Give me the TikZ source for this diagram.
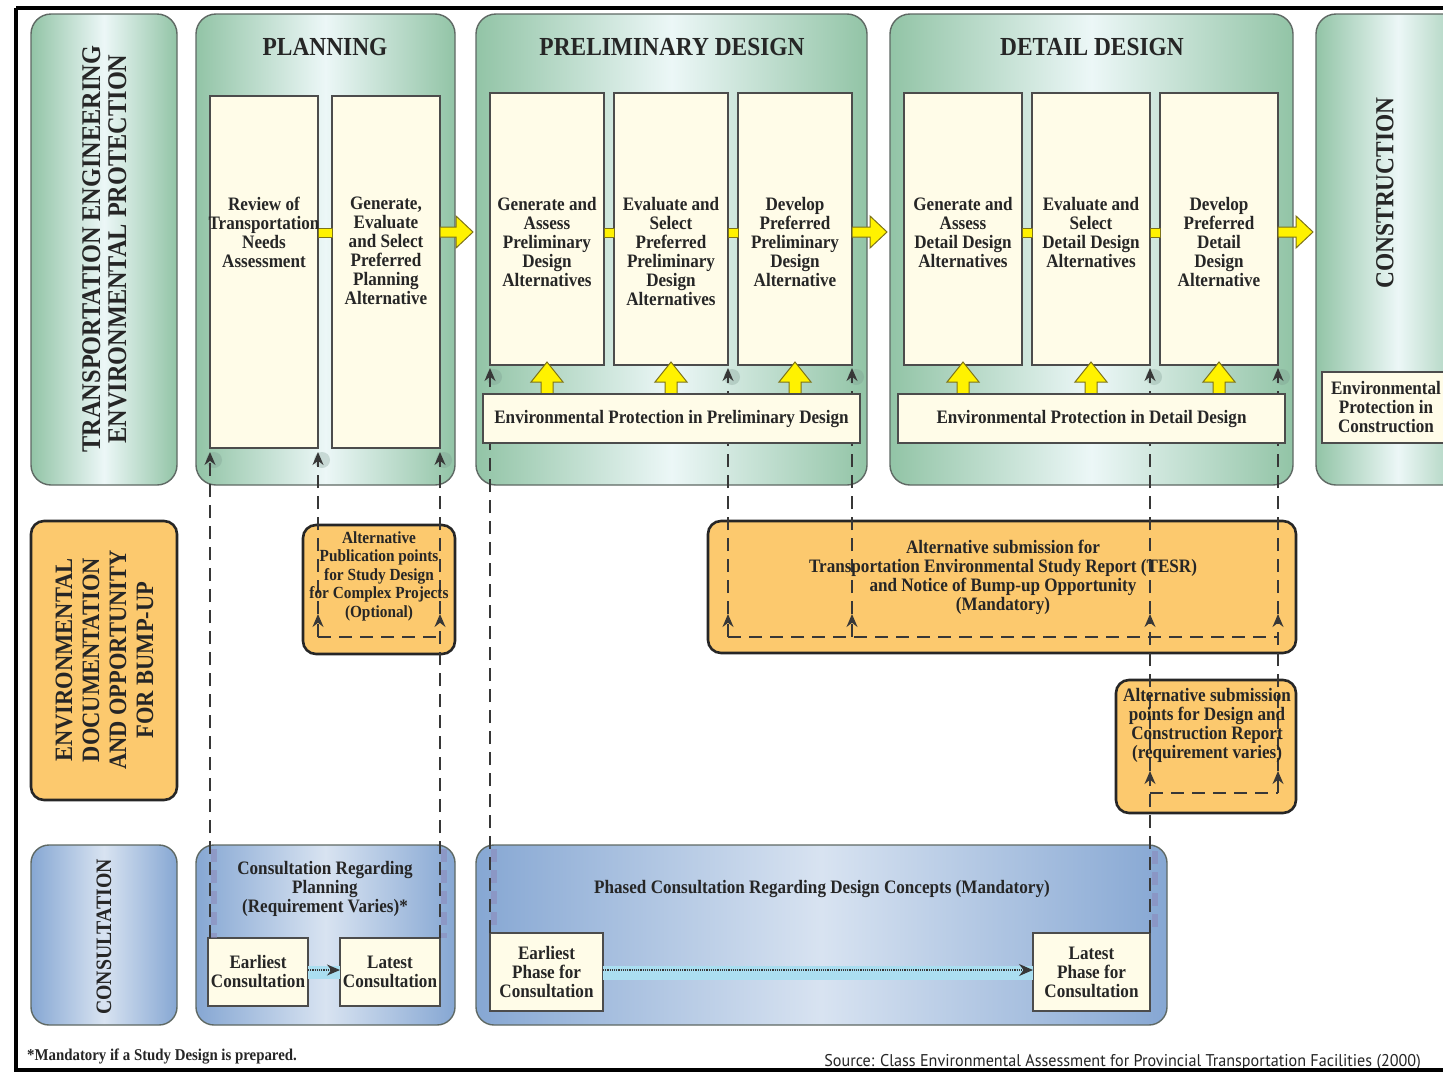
\documentclass[tikz,border=0pt]{standalone}
\usepackage{fontspec}
\setmainfont{Liberation Serif}[FakeStretch=0.9]
\newfontfamily\srcfont{PT Sans}[FakeStretch=0.95]
\usetikzlibrary{arrows.meta,calc}

\definecolor{grnE}{RGB}{146,196,166}
\definecolor{grnC}{RGB}{236,247,247}
\definecolor{bord}{RGB}{95,105,100}
\definecolor{cream}{RGB}{255,252,232}
\definecolor{yel}{RGB}{255,242,0}
\definecolor{yelB}{RGB}{125,115,25}
\definecolor{org}{RGB}{252,201,110}
\definecolor{bluE}{RGB}{134,167,211}
\definecolor{bluC}{RGB}{216,227,241}
\definecolor{dlc}{RGB}{55,55,55}
\definecolor{band}{RGB}{170,222,240}
\definecolor{pband}{RGB}{140,136,185}
\definecolor{halo}{RGB}{120,150,140}

\newcommand\mkbox[7]{%
 \pgfmathsetmacro\mbcx{(#3+#5)/2}%
 \pgfmathsetmacro\mbcy{(#4+#6)/2}%
 \pgfmathsetmacro\mbw{#5-#3}%
 \pgfmathsetmacro\mbh{#6-#4}%
 \node[#1, minimum width=\mbw pt, minimum height=\mbh pt] (#2) at (\mbcx,\mbcy) {#7};}
\newcommand\rarr[3]{\draw[yarr] (#1,#3-5) -- (#2-17,#3-5) -- (#2-17,#3-16) -- (#2,#3) -- (#2-17,#3+16) -- (#2-17,#3+5) -- (#1,#3+5) -- cycle;}
\newcommand\uarr[1]{\draw[yarr] ($(#1.south)+(0,-3)$) -- ++(16,20) -- ++(-10,0) -- ++(0,14) -- ++(-12,0) -- ++(0,-14) -- ++(-10,0) -- cycle;}
\newcommand\ylink[2]{\draw[yarr,line width=.5pt] (#1,228) rectangle (#2,237);}
\newcommand\halo[1]{\fill[halo, opacity=0.3] ($(#1)+(4,12)$) circle (8pt);}

\begin{document}
\begin{tikzpicture}[x=1pt,y=-1pt,
 greenbox/.style={draw=bord, line width=1.4pt, rounded corners=20pt, left color=grnE, right color=grnE, middle color=grnC, inner sep=0pt, outer sep=0pt},
 bbox/.style={draw=bord, line width=1.4pt, rounded corners=18pt, left color=bluE, right color=bluE, middle color=bluC, inner sep=0pt, outer sep=0pt},
 obox/.style={draw=black!85, line width=2.6pt, fill=org, rounded corners=13pt, inner sep=0pt, outer sep=0pt},
 cbox/.style={draw=black!70, line width=1.3pt, fill=cream, inner sep=0pt, outer sep=0pt},
 txt/.style={font=\bfseries\fontsize{19}{19}\selectfont, align=center, inner sep=0pt, text=black!85},
 ttl/.style={font=\bfseries\fontsize{26}{26}\selectfont, align=center, inner sep=0pt, text=black!85},
 vtt/.style={ttl, rotate=90},
 yarr/.style={fill=yel, draw=yelB, line width=1pt},
 dln/.style={draw=dlc, line width=1.4pt, dash pattern=on 13pt off 8pt},
 arr/.style={-{Stealth[length=13pt,width=11pt]}},
 pbd/.style={draw=pband, line width=6pt, opacity=0.55, dash pattern=on 13pt off 8pt}
]
\clip (0,0) rectangle (1443,1074);
\fill[white] (0,0) rectangle (1443,1074);

% ---------- green row
\mkbox{greenbox}{tep}{31}{14}{177}{485}{}
\mkbox{greenbox}{plan}{196}{14}{455}{485}{}
\mkbox{greenbox}{prel}{476}{14}{867}{485}{}
\mkbox{greenbox}{det}{890}{14}{1293}{485}{}
\mkbox{greenbox}{cons}{1316}{14}{1480}{485}{}

% ---------- orange row
\mkbox{obox}{edob}{31}{521}{177}{800}{}
\mkbox{obox}{pub}{303}{525}{455}{654}{}
\mkbox{obox}{tesr}{708}{521}{1296}{653}{}
\mkbox{obox}{dcr}{1116}{680}{1296}{813}{}

% ---------- blue row
\mkbox{bbox}{consl}{31}{845}{177}{1025}{}
\mkbox{bbox}{cplan}{196}{845}{455}{1025}{}
\mkbox{bbox}{cdes}{476}{845}{1167}{1025}{}

% ---------- cream boxes
\mkbox{cbox}{rev}{210}{96}{318}{448}{}
\mkbox{cbox}{gen}{332}{96}{440}{448}{}
\mkbox{cbox}{pd1}{490}{93}{604}{365}{}
\mkbox{cbox}{pd2}{614}{93}{728}{365}{}
\mkbox{cbox}{pd3}{738}{93}{852}{365}{}
\mkbox{cbox}{dd1}{904}{93}{1022}{365}{}
\mkbox{cbox}{dd2}{1032}{93}{1150}{365}{}
\mkbox{cbox}{dd3}{1160}{93}{1278}{365}{}

\mkbox{cbox,txt}{ec}{208}{938}{308}{1006}{Earliest\\Consultation}
\mkbox{cbox,txt}{lc}{340}{938}{440}{1006}{Latest\\Consultation}
\mkbox{cbox,txt}{ep}{490}{933}{603}{1011}{Earliest\\Phase for\\Consultation}
\mkbox{cbox,txt}{lp}{1033}{933}{1150}{1011}{Latest\\Phase for\\Consultation}

% ---------- yellow connectors
\ylink{318}{332}
\ylink{604}{614}
\ylink{728}{738}
\ylink{1022}{1032}
\ylink{1150}{1160}
\rarr{440}{473}{232}
\rarr{852}{887}{232}
\rarr{1278}{1313}{232}
\uarr{pd1}\uarr{pd2}\uarr{pd3}
\uarr{dd1}\uarr{dd2}\uarr{dd3}

% ---------- consultation dotted arrows
\fill[band] (ec.east |- 0,966) rectangle (lc.west |- 0,979);
\fill[band] (ep.east |- 0,966) rectangle (lp.west |- 0,980);
\draw[draw=dlc, densely dotted, line width=1.2pt, -{Stealth[length=13pt,width=11pt]}] ($(ec.east)+(0,-2)$) -- ($(lc.west)+(0,-2)$);
\draw[draw=dlc, densely dotted, line width=1.2pt, -{Stealth[length=14pt,width=12pt]}] ($(ep.east)+(0,-2)$) -- ($(lp.west)+(0,-2)$);

% ---------- purple shadow bands
\draw[pbd] ($(rev.south west |- cplan.north)+(4,4)$) -- ($(rev.south west |- ec.north)+(4,0)$);
\draw[pbd] ($(gen.south east |- cplan.north)+(4,4)$) -- ($(gen.south east |- lc.north)+(4,0)$);
\draw[pbd] ($(pd1.south west |- cdes.north)+(4,4)$) -- ($(pd1.south west |- ep.north)+(4,0)$);
\draw[pbd] ($(dd2.south east |- cdes.north)+(5,6)$) -- ($(dd2.south east |- lp.north)+(5,0)$);

% ---------- helper coordinates
\coordinate (pb) at ($(pub.south)+(0,-17)$);
\coordinate (pa) at ($(pub.south)+(0,-40)$);
\coordinate (tb) at ($(tesr.south)+(0,-16)$);
\coordinate (ta) at ($(tesr.south)+(0,-39)$);
\coordinate (db) at ($(dcr.south)+(0,-20)$);
\coordinate (da) at ($(dcr.south)+(0,-42)$);

% ---------- halos at arrow tips in the stage boxes
\halo{rev.south west}\halo{rev.south east}\halo{gen.south east}
\halo{pd1.south west}\halo{pd2.south east}\halo{pd3.south east}
\halo{dd2.south east}\halo{dd3.south east}

% ---------- dashed flow lines
\draw[dln,arr] (rev.south west |- ec.north) -- ($(rev.south west)+(0,4)$);
\draw[dln] (rev.south east |- pb) -- (gen.south east |- pb);
\draw[dln,arr] (rev.south east |- pb) -- (rev.south east |- pa);
\draw[dln,arr] (rev.south east |- pa) -- ($(rev.south east)+(0,4)$);
\draw[dln,arr] (gen.south east |- lc.north) -- (gen.south east |- pa);
\draw[dln,arr] (gen.south east |- pa) -- ($(gen.south east)+(0,4)$);

\draw[dln,arr] (pd1.south west |- ep.north) -- ($(pd1.south west)+(0,3)$);
\draw[dln] (pd2.south east |- tb) -- (dd3.south east |- tb);
\draw[dln,arr] (pd2.south east |- tb) -- (pd2.south east |- ta);
\draw[dln,arr] (pd2.south east |- ta) -- ($(pd2.south east)+(0,3)$);
\draw[dln,arr] (pd3.south east |- tb) -- (pd3.south east |- ta);
\draw[dln,arr] (pd3.south east |- ta) -- ($(pd3.south east)+(0,3)$);
\draw[dln,arr] (dd2.south east |- lp.north) -- (dd2.south east |- da);
\draw[dln,arr] (dd2.south east |- da) -- (dd2.south east |- ta);
\draw[dln,arr] (dd2.south east |- ta) -- ($(dd2.south east)+(0,3)$);
\draw[dln] (dd2.south east |- db) -- (dd3.south east |- db);
\draw[dln,arr] (dd3.south east |- db) -- (dd3.south east |- da);
\draw[dln,arr] (dd3.south east |- da) -- (dd3.south east |- ta);
\draw[dln,arr] (dd3.south east |- ta) -- ($(dd3.south east)+(0,3)$);

% ---------- environmental protection boxes
\mkbox{cbox,txt}{envp}{483}{394}{860}{443}{Environmental Protection in Preliminary Design}
\mkbox{cbox,txt}{envd}{898}{394}{1285}{443}{Environmental Protection in Detail Design}
\mkbox{cbox,txt}{envc}{1322}{372}{1450}{443}{Environmental\\Protection in\\Construction}

% ---------- titles
\node[vtt, font=\bfseries\fontsize{27}{26}\selectfont] (tep-t) at (104.5,249) {TRANSPORTATION ENGINEERING\\ENVIRONMENTAL PROTECTION};
\node[ttl] (plan-t) at (325,47) {PLANNING};
\node[ttl] (prel-t) at (672,47) {PRELIMINARY DESIGN};
\node[ttl] (det-t) at (1092,47) {DETAIL DESIGN};
\node[vtt] (cons-t) at (1385,193) {CONSTRUCTION};
\node[vtt, font=\bfseries\fontsize{25}{27}\selectfont] (edob-t) at (104.5,660) {ENVIRONMENTAL\\DOCUMENTATION\\AND OPPORTUNITY\\FOR BUMP-UP};
\node[vtt, font=\bfseries\fontsize{22}{22}\selectfont] (consl-t) at (104,937) {CONSULTATION};

% ---------- step texts
\node[txt, anchor=north] (rev-t) at (264,197) {Review of\\Transportation\\Needs\\Assessment};
\node[txt, anchor=north] (gen-t) at (386,197) {Generate,\\Evaluate\\and Select\\Preferred\\Planning\\Alternative};
\node[txt, anchor=north] (pd1-t) at (547,197) {Generate and\\Assess\\Preliminary\\Design\\Alternatives};
\node[txt, anchor=north] (pd2-t) at (671,197) {Evaluate and\\Select\\Preferred\\Preliminary\\Design\\Alternatives};
\node[txt, anchor=north] (pd3-t) at (795,197) {Develop\\Preferred\\Preliminary\\Design\\Alternative};
\node[txt, anchor=north] (dd1-t) at (963,197) {Generate and\\Assess\\Detail Design\\Alternatives};
\node[txt, anchor=north] (dd2-t) at (1091,197) {Evaluate and\\Select\\Detail Design\\Alternatives};
\node[txt, anchor=north] (dd3-t) at (1219,197) {Develop\\Preferred\\Detail\\Design\\Alternative};

% ---------- orange texts
\node[txt, font=\bfseries\fontsize{17}{18.5}\selectfont] (pub-t) at (379,576) {Alternative\\Publication points\\for Study Design\\for Complex Projects\\(Optional)};
\node[txt] (tesr-t) at (1003,577) {Alternative submission for\\Transportation Environmental Study Report (TESR)\\and Notice of Bump-up Opportunity\\(Mandatory)};
\node[txt] (dcr-t) at (1207,725) {Alternative submission\\points for Design and\\Construction Report\\(requirement varies)};

% ---------- consultation texts
\node[txt] (cplan-t) at (325,889) {Consultation Regarding\\Planning\\(Requirement Varies)*};
\node[txt] (cdes-t) at (822,889) {Phased Consultation Regarding Design Concepts (Mandatory)};

% ---------- footer
\node[font=\bfseries\fontsize{16.5}{16.5}\selectfont, anchor=west, inner sep=0pt, text=black!85] (foot) at (27,1056) {*Mandatory if a Study Design is prepared.};
\node[font=\srcfont\fontsize{17}{17}\selectfont, anchor=east, inner sep=0pt, text=black!85] (src) at (1421,1062) {Source: Class Environmental Assessment for Provincial Transportation Facilities (2000)};

% ---------- frame
\draw[line width=3.6pt] (16,8) -- (1500,8);
\draw[line width=3.6pt] (16,8) -- (16,1070) -- (1500,1070);
\end{tikzpicture}
\end{document}
